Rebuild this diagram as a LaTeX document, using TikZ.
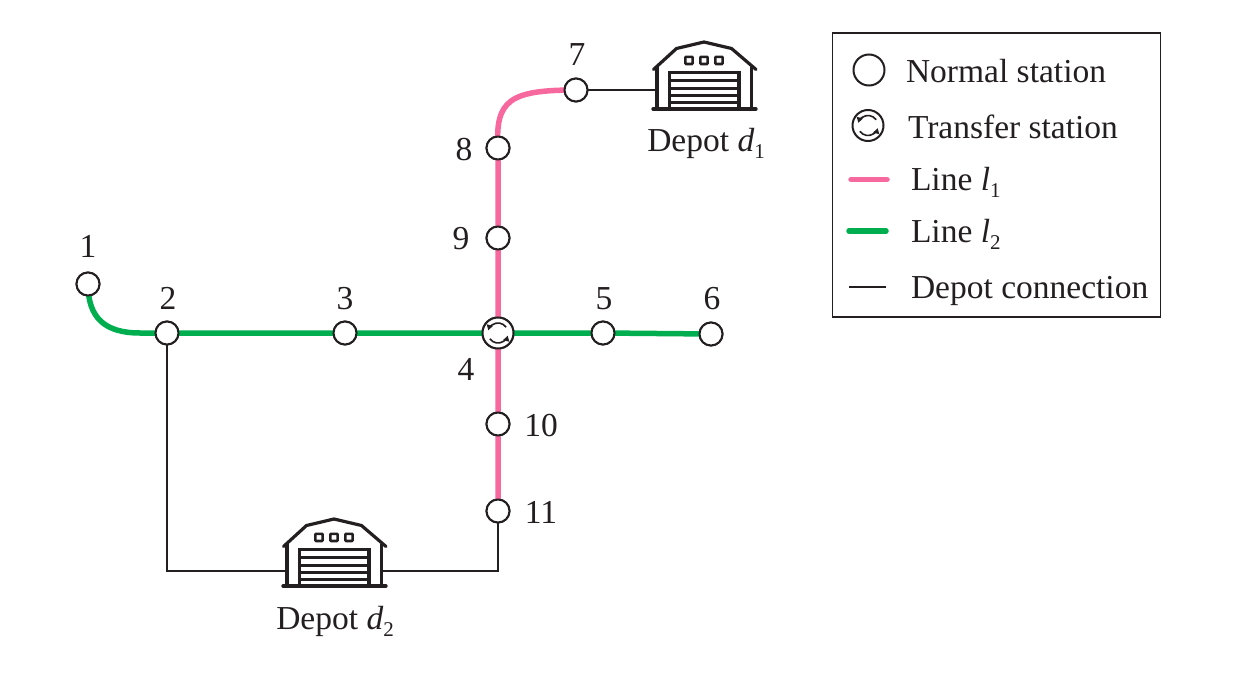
\documentclass[tikz,border=0pt]{standalone}
\usepackage{fontspec}
\setmainfont{Liberation Serif}
\usetikzlibrary{arrows.meta}
\definecolor{pinkline}{HTML}{F7689F}
\definecolor{greenline}{HTML}{00AE50}
\definecolor{ink}{HTML}{231F20}
\newcommand{\subdigit}[1]{\raisebox{-0.22em}{\fontsize{21}{21}\selectfont #1}}
\tikzset{
  x=1pt,y=-1pt,
  every node/.style={font=\fontsize{33.5}{36}\selectfont,text=ink,inner sep=0pt,outer sep=0pt},
  stationdot/.style={circle,draw=ink,fill=white,line width=2pt,minimum size=23pt},
  transferdot/.style={circle,draw=ink,fill=white,line width=2pt,minimum size=31pt},
  numlabel/.style={anchor=base},
  legendtext/.style={anchor=base west},
  pinkpath/.style={draw=pinkline,line width=5.5pt,line cap=round},
  greenpath/.style={draw=greenline,line width=5.5pt,line cap=round},
  depotpath/.style={draw=ink,line width=2.2pt},
  pics/depot/.style={code={
    \draw[ink,line width=3.2pt,line cap=round,line join=round]
      (-50.5,27.5) -- (-27.5,6.5) -- (0,0) -- (27.5,6.5) -- (52,27.5);
    \draw[ink,line width=3.2pt] (-47,25) -- (-47,67) (47.5,25) -- (47.5,67);
    \draw[ink,line width=3.4pt,line cap=round] (-51,67) -- (52,67);
    \draw[ink,line width=3.2pt] (-34.5,67) -- (-34.5,30.5) -- (35,30.5) -- (35,67);
    \foreach \yy in {38.5,46,53.5,60.5}
      \draw[ink,line width=3pt] (-34.5,\yy) -- (35,\yy);
    \foreach \xx in {-15,0,15}
      \draw[ink,line width=2.6pt,rounded corners=0.8pt] (\xx-3.6,14.8) rectangle (\xx+3.6,22);
  }},
  pics/swapmark/.style={code={
    \draw[ink,line width=1.6pt,-{Triangle[length=5.5pt,width=6pt]}] (35:10pt) arc[start angle=35,end angle=165,radius=10pt];
    \draw[ink,line width=1.6pt,-{Triangle[length=5.5pt,width=6pt]}] (215:10pt) arc[start angle=215,end angle=345,radius=10pt];
  }}
}
\begin{document}
\begin{tikzpicture}
\useasboundingbox (0,0) rectangle (1256,680);
% station nodes
\node[stationdot] (s1) at (88,284) {};
\node[stationdot] (s2) at (167,333) {};
\node[stationdot] (s3) at (345,333) {};
\node[transferdot] (s4) at (498,333) {};
\node[stationdot] (s5) at (603,333) {};
\node[stationdot] (s6) at (711,334) {};
\node[stationdot] (s7) at (576,90) {};
\node[stationdot] (s8) at (498,148) {};
\node[stationdot] (s9) at (498,238) {};
\node[stationdot] (s10) at (498,424) {};
\node[stationdot] (s11) at (498,511) {};
\coordinate (d1in) at (655,90);
\coordinate (d2inL) at (286,571);
\coordinate (d2inR) at (383,571);
\coordinate (cornerL) at (167,571);
\coordinate (cornerR) at (498,571);
% connectors
\draw[depotpath] (s7.center) -- (d1in);
\draw[depotpath] (s2.center) -- (cornerL) -- (d2inL);
\draw[depotpath] (d2inR) -- (cornerR) -- (s11.center);
\draw[pinkpath] (s11.center) -- (s10.center) -- (s4.center) -- (s9.center) -- (s8.center)
  .. controls (495,100) and (510,90) .. (s7.center);
\draw[greenpath] (s1.center) .. controls (88,318) and (105,333) .. (140,333) -- (s2.center) -- (s3.center) -- (s4.center) -- (s5.center) -- (s6.center);
% redraw station nodes on top
\foreach \p/\n in {88/284,167/333,345/333,603/333,711/334,576/90,498/148,498/238,498/424,498/511}
  \node[stationdot] at (\p,\n) {};
\node[transferdot] at (s4) {};
\pic at (s4) {swapmark};
% labels
\node[numlabel] (t1) at (88,257) {1};
\node[numlabel] (t2) at (168,309) {2};
\node[numlabel] (t3) at (345,309) {3};
\node[numlabel] (t4) at (466,380) {4};
\node[numlabel] (t5) at (604,309) {5};
\node[numlabel] (t6) at (712,309) {6};
\node[numlabel] (t7) at (577,65) {7};
\node[numlabel] (t8) at (464,160) {8};
\node[numlabel] (t9) at (461,249) {9};
\node[numlabel] (t10) at (541,436) {10};
\node[numlabel] (t11) at (541,523) {11};
% depots
\pic at (704,42) {depot};
\pic at (334,519) {depot};
\node[anchor=base] (d1) at (706,151) {Depot {\itshape d}\subdigit{1}};
\node[anchor=base] (d2) at (335,629) {Depot {\itshape d}\subdigit{2}};
% legend
\node[draw=ink,line width=1.5pt,minimum width=328pt,minimum height=284pt,anchor=north west] (legend) at (832.5,33) {};
\node[stationdot,minimum size=31pt] (ln) at (869,70) {};
\node[transferdot] (lt) at (868,125.5) {};
\pic at (lt) {swapmark};
\coordinate (lp1) at (851,179.5); \coordinate (lp2) at (887,179.5);
\coordinate (lg1) at (849,231); \coordinate (lg2) at (886,231);
\coordinate (lb1) at (849,287); \coordinate (lb2) at (886,287);
\draw[pinkpath] (lp1) -- (lp2);
\draw[greenpath] (lg1) -- (lg2);
\draw[depotpath,line width=2.4pt] (lb1) -- (lb2);
\node[legendtext] (ltx1) at (906,82) {Normal station};
\node[legendtext] (ltx2) at (908,138.5) {Transfer station};
\node[legendtext] (ltx3) at (911,190) {Line {\itshape l}\subdigit{1}};
\node[legendtext] (ltx4) at (911,242.5) {Line {\itshape l}\subdigit{2}};
\node[legendtext] (ltx5) at (911,298) {Depot connection};
\end{tikzpicture}
\end{document}
